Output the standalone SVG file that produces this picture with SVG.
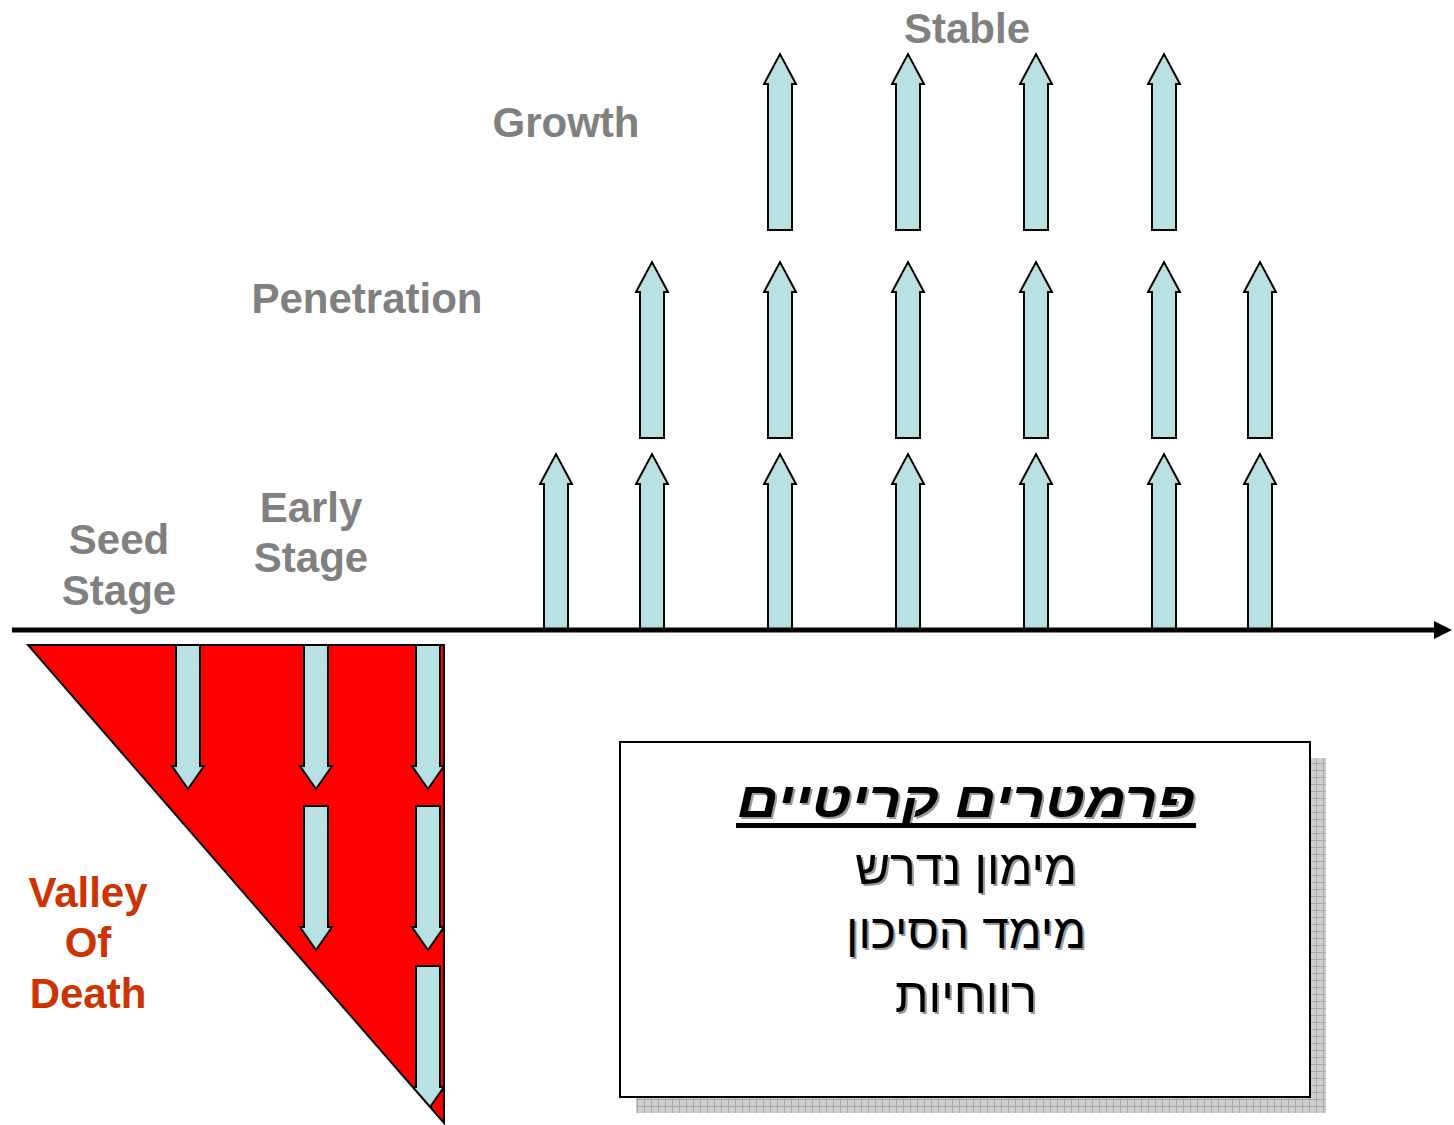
<svg xmlns="http://www.w3.org/2000/svg" xmlns:xlink="http://www.w3.org/1999/xlink" width="1454" height="1125" viewBox="0 0 1454 1125">
<style>
.lbl{font-family:"Liberation Sans",Arial,sans-serif;font-weight:bold;font-size:42px;fill:#808080;text-anchor:middle}
.vod{font-family:"Liberation Sans",Arial,sans-serif;font-weight:bold;font-size:42px;fill:#CC3300;text-anchor:middle}
.heb{font-family:"Liberation Sans","DejaVu Sans",sans-serif;font-size:48px;text-anchor:middle;direction:rtl}
.ttl{font-size:50px;font-weight:bold;font-style:italic}
.arr{fill:#B9E0E3;stroke:#000;stroke-width:2;stroke-linejoin:miter}
</style>
<defs>
<path id="up" class="arr" d="M -12,176 V 30 H -16 L 0,0 L 16,30 H 12 V 176 Z"/>
<path id="dn" class="arr" d="M -12,0 V 121 H -16 L 0,144 L 16,121 H 12 V 0 Z"/>
<pattern id="grid" width="7" height="7" patternUnits="userSpaceOnUse">
<rect width="7" height="7" fill="#cfcfcf"/>
<path d="M0,0.5 H7 M0.5,0 V7" stroke="#a8a8a8" stroke-width="1"/>
</pattern>
<clipPath id="tri"><polygon points="28,645 444,645 444,1123"/></clipPath>
</defs>
<g id="labels">
<text class="lbl" x="967" y="43">Stable</text>
<text class="lbl" x="566" y="137">Growth</text>
<text class="lbl" x="367" y="313">Penetration</text>
<text class="lbl" x="311" y="522">Early</text>
<text class="lbl" x="311" y="572">Stage</text>
<text class="lbl" x="119" y="554">Seed</text>
<text class="lbl" x="119" y="605">Stage</text>
</g>
<g id="up-arrows">
<use href="#up" x="556" y="454"/>
<use href="#up" x="652" y="454"/>
<use href="#up" x="780" y="454"/>
<use href="#up" x="908" y="454"/>
<use href="#up" x="1036" y="454"/>
<use href="#up" x="1164" y="454"/>
<use href="#up" x="1260" y="454"/>
<use href="#up" x="652" y="262"/>
<use href="#up" x="780" y="262"/>
<use href="#up" x="908" y="262"/>
<use href="#up" x="1036" y="262"/>
<use href="#up" x="1164" y="262"/>
<use href="#up" x="1260" y="262"/>
<use href="#up" x="780" y="54"/>
<use href="#up" x="908" y="54"/>
<use href="#up" x="1036" y="54"/>
<use href="#up" x="1164" y="54"/>
</g>
<g id="axis">
<line x1="12" y1="630" x2="1438" y2="630" stroke="#000" stroke-width="5"/>
<polygon points="1434,621 1452,630 1434,639" fill="#000"/>
</g>
<g id="valley">
<polygon points="28,645 444,645 444,1123" fill="#ff0000"/>
<g clip-path="url(#tri)">
<use href="#dn" x="188" y="645"/>
<use href="#dn" x="316" y="645"/>
<use href="#dn" x="428" y="645"/>
<use href="#dn" x="316" y="806"/>
<use href="#dn" x="428" y="806"/>
<use href="#dn" x="428" y="966"/>
</g>
<polygon points="28,645 444,645 444,1123" fill="none" stroke="#000" stroke-width="2"/>
<text class="vod" x="88" y="907">Valley</text>
<text class="vod" x="88" y="957">Of</text>
<text class="vod" x="88" y="1008">Death</text>
</g>
<g id="params">
<rect x="636" y="758" width="690" height="355" fill="url(#grid)"/>
<rect x="620" y="742" width="690" height="355" fill="#fff" stroke="#000" stroke-width="2"/>
<g fill="#9a9a9a" transform="translate(2,2)">
<text class="heb ttl" x="966" y="817" textLength="458" lengthAdjust="spacingAndGlyphs">פרמטרים קריטיים</text>
<text class="heb" x="966" y="884" textLength="222" lengthAdjust="spacingAndGlyphs">מימון נדרש</text>
<text class="heb" x="966" y="948" textLength="240" lengthAdjust="spacingAndGlyphs">מימד הסיכון</text>
<text class="heb" x="966" y="1012" textLength="142" lengthAdjust="spacingAndGlyphs">רווחיות</text>
</g>
<g fill="#000">
<text class="heb ttl" x="966" y="817" textLength="458" lengthAdjust="spacingAndGlyphs">פרמטרים קריטיים</text>
<text class="heb" x="966" y="884" textLength="222" lengthAdjust="spacingAndGlyphs">מימון נדרש</text>
<text class="heb" x="966" y="948" textLength="240" lengthAdjust="spacingAndGlyphs">מימד הסיכון</text>
<text class="heb" x="966" y="1012" textLength="142" lengthAdjust="spacingAndGlyphs">רווחיות</text>
</g>
<rect x="736" y="823" width="460" height="5" fill="#000"/>
</g>
</svg>
